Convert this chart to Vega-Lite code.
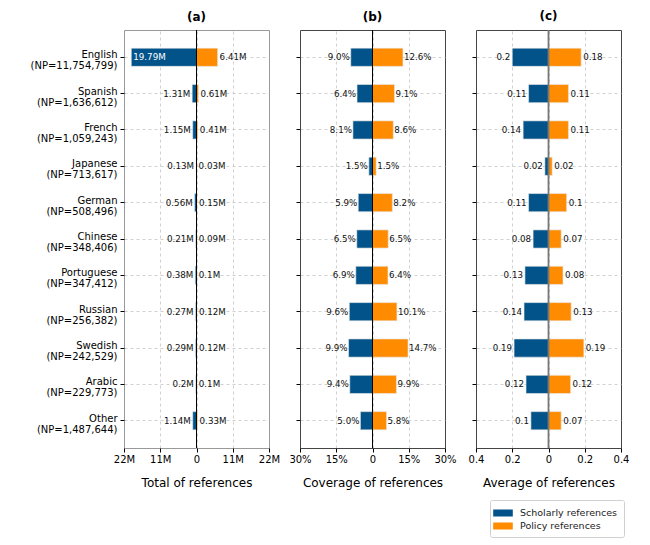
{
  "$schema": "https://vega.github.io/schema/vega-lite/v6.json",
  "padding": {"left": 29, "top": 9, "right": 5, "bottom": 5},
  "background": "white",
  "bounds": "flush",
  "config": {
    "font": "DejaVu Sans",
    "view": {"stroke": "#333", "strokeWidth": 1},
    "axis": {
      "labelFont": "DejaVu Sans", "labelFontSize": 10, "labelColor": "#000",
      "tickColor": "#000", "tickSize": 4, "domain": false,
      "gridDash": [3, 3], "gridColor": "#c4c4c4", "gridWidth": 0.8,
      "titleFont": "DejaVu Sans", "titleFontWeight": "normal", "titleFontSize": 12, "titleColor": "#000",
      "labelFlush": false, "labelOverlap": false
    },
    "title": {"font": "DejaVu Sans", "fontSize": 12, "fontWeight": "bold", "color": "#000", "offset": 6},
    "legend": {"labelFont": "DejaVu Sans"}
  },
  "data": {"values": [
    {"lang": "English\n(NP=11,754,799)", "type": "Scholarly references", "total": -19.79, "tl": "19.79M", "coverage": -9.0, "cl": "9.0%", "average": -0.2, "al": "0.2"},
    {"lang": "English\n(NP=11,754,799)", "type": "Policy references", "total": 6.41, "tl": "6.41M", "coverage": 12.6, "cl": "12.6%", "average": 0.18, "al": "0.18"},
    {"lang": "Spanish\n(NP=1,636,612)", "type": "Scholarly references", "total": -1.31, "tl": "1.31M", "coverage": -6.4, "cl": "6.4%", "average": -0.11, "al": "0.11"},
    {"lang": "Spanish\n(NP=1,636,612)", "type": "Policy references", "total": 0.61, "tl": "0.61M", "coverage": 9.1, "cl": "9.1%", "average": 0.11, "al": "0.11"},
    {"lang": "French\n(NP=1,059,243)", "type": "Scholarly references", "total": -1.15, "tl": "1.15M", "coverage": -8.1, "cl": "8.1%", "average": -0.14, "al": "0.14"},
    {"lang": "French\n(NP=1,059,243)", "type": "Policy references", "total": 0.41, "tl": "0.41M", "coverage": 8.6, "cl": "8.6%", "average": 0.11, "al": "0.11"},
    {"lang": "Japanese\n(NP=713,617)", "type": "Scholarly references", "total": -0.13, "tl": "0.13M", "coverage": -1.5, "cl": "1.5%", "average": -0.02, "al": "0.02"},
    {"lang": "Japanese\n(NP=713,617)", "type": "Policy references", "total": 0.03, "tl": "0.03M", "coverage": 1.5, "cl": "1.5%", "average": 0.02, "al": "0.02"},
    {"lang": "German\n(NP=508,496)", "type": "Scholarly references", "total": -0.56, "tl": "0.56M", "coverage": -5.9, "cl": "5.9%", "average": -0.11, "al": "0.11"},
    {"lang": "German\n(NP=508,496)", "type": "Policy references", "total": 0.15, "tl": "0.15M", "coverage": 8.2, "cl": "8.2%", "average": 0.1, "al": "0.1"},
    {"lang": "Chinese\n(NP=348,406)", "type": "Scholarly references", "total": -0.21, "tl": "0.21M", "coverage": -6.5, "cl": "6.5%", "average": -0.085, "al": "0.08"},
    {"lang": "Chinese\n(NP=348,406)", "type": "Policy references", "total": 0.09, "tl": "0.09M", "coverage": 6.5, "cl": "6.5%", "average": 0.07, "al": "0.07"},
    {"lang": "Portuguese\n(NP=347,412)", "type": "Scholarly references", "total": -0.38, "tl": "0.38M", "coverage": -6.9, "cl": "6.9%", "average": -0.13, "al": "0.13"},
    {"lang": "Portuguese\n(NP=347,412)", "type": "Policy references", "total": 0.1, "tl": "0.1M", "coverage": 6.4, "cl": "6.4%", "average": 0.08, "al": "0.08"},
    {"lang": "Russian\n(NP=256,382)", "type": "Scholarly references", "total": -0.27, "tl": "0.27M", "coverage": -9.6, "cl": "9.6%", "average": -0.135, "al": "0.14"},
    {"lang": "Russian\n(NP=256,382)", "type": "Policy references", "total": 0.12, "tl": "0.12M", "coverage": 10.1, "cl": "10.1%", "average": 0.125, "al": "0.13"},
    {"lang": "Swedish\n(NP=242,529)", "type": "Scholarly references", "total": -0.29, "tl": "0.29M", "coverage": -9.9, "cl": "9.9%", "average": -0.19, "al": "0.19"},
    {"lang": "Swedish\n(NP=242,529)", "type": "Policy references", "total": 0.12, "tl": "0.12M", "coverage": 14.7, "cl": "14.7%", "average": 0.195, "al": "0.19"},
    {"lang": "Arabic\n(NP=229,773)", "type": "Scholarly references", "total": -0.2, "tl": "0.2M", "coverage": -9.4, "cl": "9.4%", "average": -0.124, "al": "0.12"},
    {"lang": "Arabic\n(NP=229,773)", "type": "Policy references", "total": 0.1, "tl": "0.1M", "coverage": 9.9, "cl": "9.9%", "average": 0.122, "al": "0.12"},
    {"lang": "Other\n(NP=1,487,644)", "type": "Scholarly references", "total": -1.14, "tl": "1.14M", "coverage": -5.0, "cl": "5.0%", "average": -0.097, "al": "0.1"},
    {"lang": "Other\n(NP=1,487,644)", "type": "Policy references", "total": 0.33, "tl": "0.33M", "coverage": 5.8, "cl": "5.8%", "average": 0.07, "al": "0.07"}
  ]},
  "spacing": 31,
  "hconcat": [
    {
      "width": 145, "height": 418,
      "view": {"stroke": "#999"},
      "title": {"text": "(a)"},
      "layer": [
        {"mark": {"type": "bar", "stroke": "#e8e8e8", "strokeWidth": 0.6},
         "encoding": {
           "y": {"field": "lang", "type": "nominal", "sort": null,
                 "scale": {"paddingInner": 0.5, "paddingOuter": 0.5},
                 "axis": {"title": null, "labelExpr": "split(datum.label, '\\n')", "labelLineHeight": 11, "labelOffset": -2, "grid": true, "labelPadding": 3}},
           "x": {"field": "total", "type": "quantitative", "scale": {"domain": [-22, 22], "nice": false},
                 "axis": {"title": "Total of references", "values": [-22, -11, 0, 11, 22], "tickCount": 10, "labelExpr": "datum.value == 0 ? '0' : abs(datum.value) + 'M'", "titlePadding": 13, "grid": true, "labelOverlap": false, "gridOpacity": {"condition": {"test": "abs(datum.value) == 22", "value": 0}, "value": 1}}},
           "color": {"field": "type", "type": "nominal",
                     "scale": {"domain": ["Scholarly references", "Policy references"], "range": ["#02538a", "#ff8c00"]},
                     "legend": {"title": null, "orient": "none", "legendX": 366, "legendY": 470, "fillColor": "white", "strokeColor": "#d0d0d0", "padding": 6, "cornerRadius": 2, "labelFontSize": 9.5, "labelColor": "#222", "symbolType": "M-1.4,-0.5H1.4V0.5H-1.4Z", "symbolSize": 196, "symbolStrokeWidth": 0, "rowPadding": 1, "labelOffset": 10}}
         }},
        {"transform": [{"filter": "datum.type == 'Policy references'"}],
         "mark": {"type": "text", "align": "left", "dx": 2, "fontSize": 8.7, "baseline": "middle", "color": "#111"},
         "encoding": {"y": {"field": "lang", "type": "nominal", "sort": null}, "x": {"field": "total", "type": "quantitative"}, "text": {"field": "tl"}}},
        {"transform": [{"filter": "datum.type == 'Scholarly references' && datum.total > -15"}],
         "mark": {"type": "text", "align": "right", "dx": -2, "fontSize": 8.7, "baseline": "middle", "color": "#111"},
         "encoding": {"y": {"field": "lang", "type": "nominal", "sort": null}, "x": {"field": "total", "type": "quantitative"}, "text": {"field": "tl"}}},
        {"transform": [{"filter": "datum.type == 'Scholarly references' && datum.total <= -15"}],
         "mark": {"type": "text", "align": "left", "dx": 2, "fontSize": 8.7, "baseline": "middle", "color": "white"},
         "encoding": {"y": {"field": "lang", "type": "nominal", "sort": null}, "x": {"field": "total", "type": "quantitative"}, "text": {"field": "tl"}}},
        {"data": {"values": [{"z": 0}]},
         "mark": {"type": "rule", "color": "black", "strokeWidth": 1},
         "encoding": {"x": {"field": "z", "type": "quantitative"}}}
      ]
    },
    {
      "width": 145, "height": 418,
      "view": {"stroke": "#444"},
      "title": {"text": "(b)"},
      "layer": [
        {"mark": {"type": "bar", "stroke": "#e8e8e8", "strokeWidth": 0.6},
         "encoding": {
           "y": {"field": "lang", "type": "nominal", "sort": null,
                 "scale": {"paddingInner": 0.5, "paddingOuter": 0.5},
                 "axis": {"title": null, "labels": false, "grid": true}},
           "x": {"field": "coverage", "type": "quantitative", "scale": {"domain": [-30, 30], "nice": false},
                 "axis": {"title": "Coverage of references", "values": [-30, -15, 0, 15, 30], "tickCount": 10, "labelExpr": "datum.value == 0 ? '0' : abs(datum.value) + '%'", "titlePadding": 13, "grid": true, "labelOverlap": false, "gridOpacity": {"condition": {"test": "abs(datum.value) == 30", "value": 0}, "value": 1}}},
           "color": {"field": "type", "type": "nominal",
                     "scale": {"domain": ["Scholarly references", "Policy references"], "range": ["#02538a", "#ff8c00"]}}
         }},
        {"transform": [{"filter": "datum.type == 'Policy references'"}],
         "mark": {"type": "text", "align": "left", "dx": 1, "fontSize": 8.7, "baseline": "middle", "color": "#111"},
         "encoding": {"y": {"field": "lang", "type": "nominal", "sort": null}, "x": {"field": "coverage", "type": "quantitative"}, "text": {"field": "cl"}}},
        {"transform": [{"filter": "datum.type == 'Scholarly references'"}],
         "mark": {"type": "text", "align": "right", "dx": -1, "fontSize": 8.7, "baseline": "middle", "color": "#111"},
         "encoding": {"y": {"field": "lang", "type": "nominal", "sort": null}, "x": {"field": "coverage", "type": "quantitative"}, "text": {"field": "cl"}}},
        {"data": {"values": [{"z": 0}]},
         "mark": {"type": "rule", "color": "black", "strokeWidth": 1},
         "encoding": {"x": {"field": "z", "type": "quantitative"}}}
      ]
    },
    {
      "width": 145, "height": 418,
      "view": {"stroke": "#444"},
      "title": {"text": "(c)"},
      "layer": [
        {"mark": {"type": "bar", "stroke": "#e8e8e8", "strokeWidth": 0.6},
         "encoding": {
           "y": {"field": "lang", "type": "nominal", "sort": null,
                 "scale": {"paddingInner": 0.5, "paddingOuter": 0.5},
                 "axis": {"title": null, "labels": false, "grid": true}},
           "x": {"field": "average", "type": "quantitative", "scale": {"domain": [-0.4, 0.4], "nice": false},
                 "axis": {"title": "Average of references", "values": [-0.4, -0.2, 0, 0.2, 0.4], "tickCount": 10, "labelExpr": "datum.value == 0 ? '0' : format(abs(datum.value), '.1f')", "titlePadding": 13, "grid": true, "labelOverlap": false, "gridOpacity": {"condition": {"test": "abs(datum.value) > 0.3", "value": 0}, "value": 1}}},
           "color": {"field": "type", "type": "nominal",
                     "scale": {"domain": ["Scholarly references", "Policy references"], "range": ["#02538a", "#ff8c00"]}}
         }},
        {"transform": [{"filter": "datum.type == 'Policy references'"}],
         "mark": {"type": "text", "align": "left", "dx": 2, "fontSize": 8.7, "baseline": "middle", "color": "#111"},
         "encoding": {"y": {"field": "lang", "type": "nominal", "sort": null}, "x": {"field": "average", "type": "quantitative"}, "text": {"field": "al"}}},
        {"transform": [{"filter": "datum.type == 'Scholarly references'"}],
         "mark": {"type": "text", "align": "right", "dx": -2, "fontSize": 8.7, "baseline": "middle", "color": "#111"},
         "encoding": {"y": {"field": "lang", "type": "nominal", "sort": null}, "x": {"field": "average", "type": "quantitative"}, "text": {"field": "al"}}},
        {"data": {"values": [{"z": 0}]},
         "mark": {"type": "rule", "color": "#777", "strokeWidth": 1.8},
         "encoding": {"x": {"field": "z", "type": "quantitative"}}}
      ]
    }
  ]
}
